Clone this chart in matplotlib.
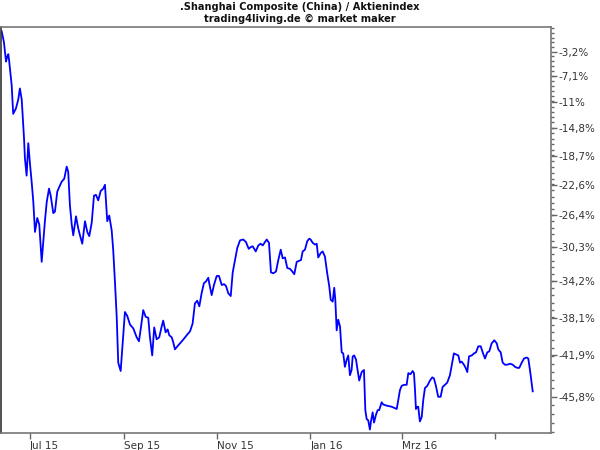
import matplotlib
matplotlib.use("Agg")
import matplotlib.pyplot as plt
import matplotlib.dates as mdates
from matplotlib.ticker import FixedLocator, NullFormatter
import numpy as np
from datetime import datetime, timedelta

# days after 2015-07-01 and change in % since start
days = [-18.6, -17.1, -15.7, -14.9, -14.2, -13.6, -12.0, -11.0, -9.2, -7.7,
        -6.6, -5.4, -3.9, -3.3, -2.2, -1.1, 0.0, 1.1, 2.2, 3.3,
        4.8, 6.1, 7.7, 8.7, 9.8, 11.0, 12.5, 13.6, 15.3, 16.4,
        17.9, 19.2, 20.8, 22.5, 24.1, 25.1, 26.2, 27.4, 28.4, 30.2,
        31.7, 32.8, 34.3, 36.1, 37.6, 38.9, 40.5, 42.0, 43.3, 44.8,
        46.4, 48.1, 49.2, 50.7, 52.0, 53.6, 54.6, 55.8, 56.9, 57.9,
        59.5, 60.8, 62.3, 63.8, 65.6, 67.8, 70.0, 71.5, 72.8, 74.3,
        75.9, 77.6, 78.7, 80.2, 81.5, 83.1, 84.8, 86.4, 87.4, 89.0,
        90.3, 91.4, 93.0, 94.0, 95.1, 97.3, 100.2, 102.8, 105.0, 106.7,
        108.2, 109.7, 111.1, 112.6, 114.1, 115.5, 117.0, 117.6, 119.2, 120.7,
        122.5, 124.0, 125.8, 127.3, 128.6, 130.1, 131.7, 133.0, 134.5, 136.0,
        137.8, 139.9, 141.7, 143.5, 144.8, 146.1, 148.1, 149.8, 151.3, 152.7,
        154.2, 155.3, 156.8, 158.1, 159.6, 161.4, 162.9, 164.5, 165.8, 167.3,
        168.8, 170.6, 172.1, 173.4, 175.0, 176.5, 177.8, 178.9, 180.4, 181.9,
        183.2, 184.1, 185.5, 187.0, 188.1, 189.1, 190.7, 192.0, 193.5, 195.0,
        196.3, 197.3, 198.6, 199.6, 200.3, 201.2, 202.2, 203.4, 204.5, 205.5,
        206.6, 207.8, 208.8, 209.9, 211.0, 211.7, 212.7, 213.9, 214.7, 216.0,
        217.6, 219.1, 220.0, 220.9, 221.9, 223.0, 223.7, 224.8, 225.7, 227.0,
        228.1, 229.1, 230.7, 231.8, 234.0, 237.3, 240.6, 241.6, 242.7, 243.8,
        245.3, 247.1, 248.2, 249.7, 251.0, 251.9, 252.6, 253.2, 254.1, 254.7,
        255.8, 257.0, 258.0, 259.1, 260.6, 262.4, 263.9, 265.0, 266.3, 267.8,
        269.4, 270.7, 272.2, 273.7, 275.5, 277.0, 278.1, 279.5, 281.0, 282.1,
        283.2, 284.7, 285.8, 286.9, 288.0, 289.8, 291.3, 292.6, 294.1, 295.7,
        297.0, 298.5, 300.0, 301.3, 302.9, 304.6, 306.2, 307.2, 308.8, 310.1,
        311.6, 313.1, 314.9, 316.7, 318.2, 319.7, 321.0, 322.6, 324.1, 325.8,
        326.9, 328.0, 329.8]
change = [0.2, -1.6, -4.8, -4.0, -3.6, -4.8, -8.5, -12.8, -12.0, -10.7,
          -9.0, -10.7, -16.3, -19.1, -21.4, -17.0, -19.8, -22.2, -24.8, -28.5,
          -26.8, -27.6, -32.0, -29.7, -27.2, -24.8, -23.1, -24.0, -26.2, -26.0,
          -23.5, -22.9, -22.2, -21.8, -20.2, -20.9, -25.2, -27.6, -28.9, -26.6,
          -28.1, -28.9, -29.9, -27.2, -28.5, -29.0, -27.4, -24.0, -23.9, -24.6,
          -23.4, -23.1, -22.6, -27.2, -26.5, -28.3, -30.6, -34.4, -38.0, -42.6,
          -43.4, -40.7, -37.5, -37.9, -38.8, -39.2, -40.1, -40.5, -39.1, -37.3,
          -38.0, -38.1, -40.1, -41.9, -39.1, -40.3, -40.1, -39.0, -38.4, -39.6,
          -39.3, -39.9, -40.1, -40.6, -41.3, -40.9, -40.4, -39.9, -39.5, -38.7,
          -36.6, -36.3, -36.9, -35.5, -34.4, -34.2, -33.8, -34.4, -35.7, -34.6,
          -33.6, -33.6, -34.6, -34.5, -34.7, -35.5, -35.8, -33.2, -31.8, -30.4,
          -29.5, -29.4, -29.7, -30.5, -30.3, -30.2, -30.8, -30.1, -29.9, -30.1,
          -29.7, -29.4, -29.8, -33.2, -33.3, -33.1, -31.8, -30.6, -31.6, -31.5,
          -32.7, -32.8, -33.1, -33.4, -32.0, -31.9, -31.8, -30.8, -30.6, -29.6,
          -29.3, -29.4, -29.8, -30.0, -29.9, -31.5, -31.0, -30.8, -31.4, -33.3,
          -34.7, -36.2, -36.4, -34.9, -36.2, -39.4, -38.3, -39.0, -41.6, -41.7,
          -43.0, -42.3, -41.9, -43.8, -43.3, -42.0, -41.9, -42.3, -43.1, -44.3,
          -43.5, -43.3, -47.0, -47.8, -47.9, -48.7, -48.0, -47.2, -48.1, -47.4,
          -47.0, -47.0, -46.3, -46.5, -46.6, -46.7, -46.9, -46.1, -45.2, -44.8,
          -44.7, -44.7, -43.6, -43.7, -43.4, -43.6, -45.2, -46.9, -46.7, -46.7,
          -48.0, -47.6, -46.1, -45.0, -44.8, -44.3, -44.0, -44.1, -44.8, -45.8,
          -45.8, -44.9, -44.7, -44.5, -43.8, -42.6, -41.7, -41.8, -41.9, -42.6,
          -42.5, -42.8, -43.1, -43.5, -42.0, -41.9, -41.7, -41.6, -41.0, -41.0,
          -41.6, -42.2, -41.6, -41.5, -40.7, -40.4, -40.7, -41.3, -41.6, -42.6,
          -42.8, -42.8, -42.7, -42.8, -43.0, -43.1, -43.1, -42.6, -42.2, -42.1,
          -42.2, -43.3, -45.3]

month_starts = ["2015-07-01", "2015-09-01", "2015-11-01", "2016-01-01", "2016-03-01", "2016-05-01"]
month_labels = ["Jul 15", "Sep 15", "Nov 15", "Jan 16", "Mrz 16", ""]

y_ticks = [-3.2, -7.1, -11.0, -14.8, -18.7, -22.6, -26.4, -30.3, -34.2, -38.1, -41.9, -45.8]
y_labels = ["-3,2%", "-7,1%", "-11%", "-14,8%", "-18,7%", "-22,6%", "-26,4%",
            "-30,3%", "-34,2%", "-38,1%", "-41,9%", "-45,8%"]

base = mdates.date2num(datetime(2015, 7, 1))
x = base + np.array(days)
y = 1 + np.array(change) / 100.0

fig = plt.figure(figsize=(6, 4.5), dpi=100)
ax = fig.add_axes([1 / 600, 17 / 450, 550 / 600, 406 / 450])

ax.plot(x, y, color="#0000ff", lw=1.3)

ax.set_yscale("log")
ax.set_ylim(0.510, 1.009)
ax.set_xlim(base - 19.0, base + 341.8)

ax.yaxis.tick_right()
ax.yaxis.set_major_locator(FixedLocator([1 + v / 100 for v in y_ticks]))
ax.yaxis.set_major_formatter(plt.FixedFormatter(y_labels))
step = (y_ticks[0] - y_ticks[-1]) / (len(y_ticks) - 1) / 5
minors = np.arange(y_ticks[0] + 5 * step, -49.5, -step)
ax.yaxis.set_minor_locator(FixedLocator(1 + minors / 100))
ax.yaxis.set_minor_formatter(NullFormatter())

xt = [mdates.date2num(datetime.strptime(d, "%Y-%m-%d")) for d in month_starts]
ax.set_xticks(xt)
ax.set_xticklabels(month_labels, ha="left")
ax.xaxis.set_minor_locator(FixedLocator([]))

ax.tick_params(axis="both", which="major", length=4, width=1, color="#666666",
               labelsize=7.5, labelcolor="#333333", pad=1.5)
ax.tick_params(axis="y", which="minor", length=2, width=1, color="#666666")

for s in ["top", "bottom", "right"]:
    ax.spines[s].set_color("#777777")
    ax.spines[s].set_linewidth(1.2)
ax.spines["left"].set_color("#333333")
ax.spines["left"].set_linewidth(1.2)

fig.text(0.5, 1 - 7 / 450, ".Shanghai Composite (China) / Aktienindex", ha="center", va="center",
         fontsize=7.1, fontweight="bold", color="#111111")
fig.text(0.5, 1 - 19 / 450, "trading4living.de \u00a9 market maker", ha="center", va="center",
         fontsize=7.1, fontweight="bold", color="#111111")

fig.savefig("out.png", dpi=100)
